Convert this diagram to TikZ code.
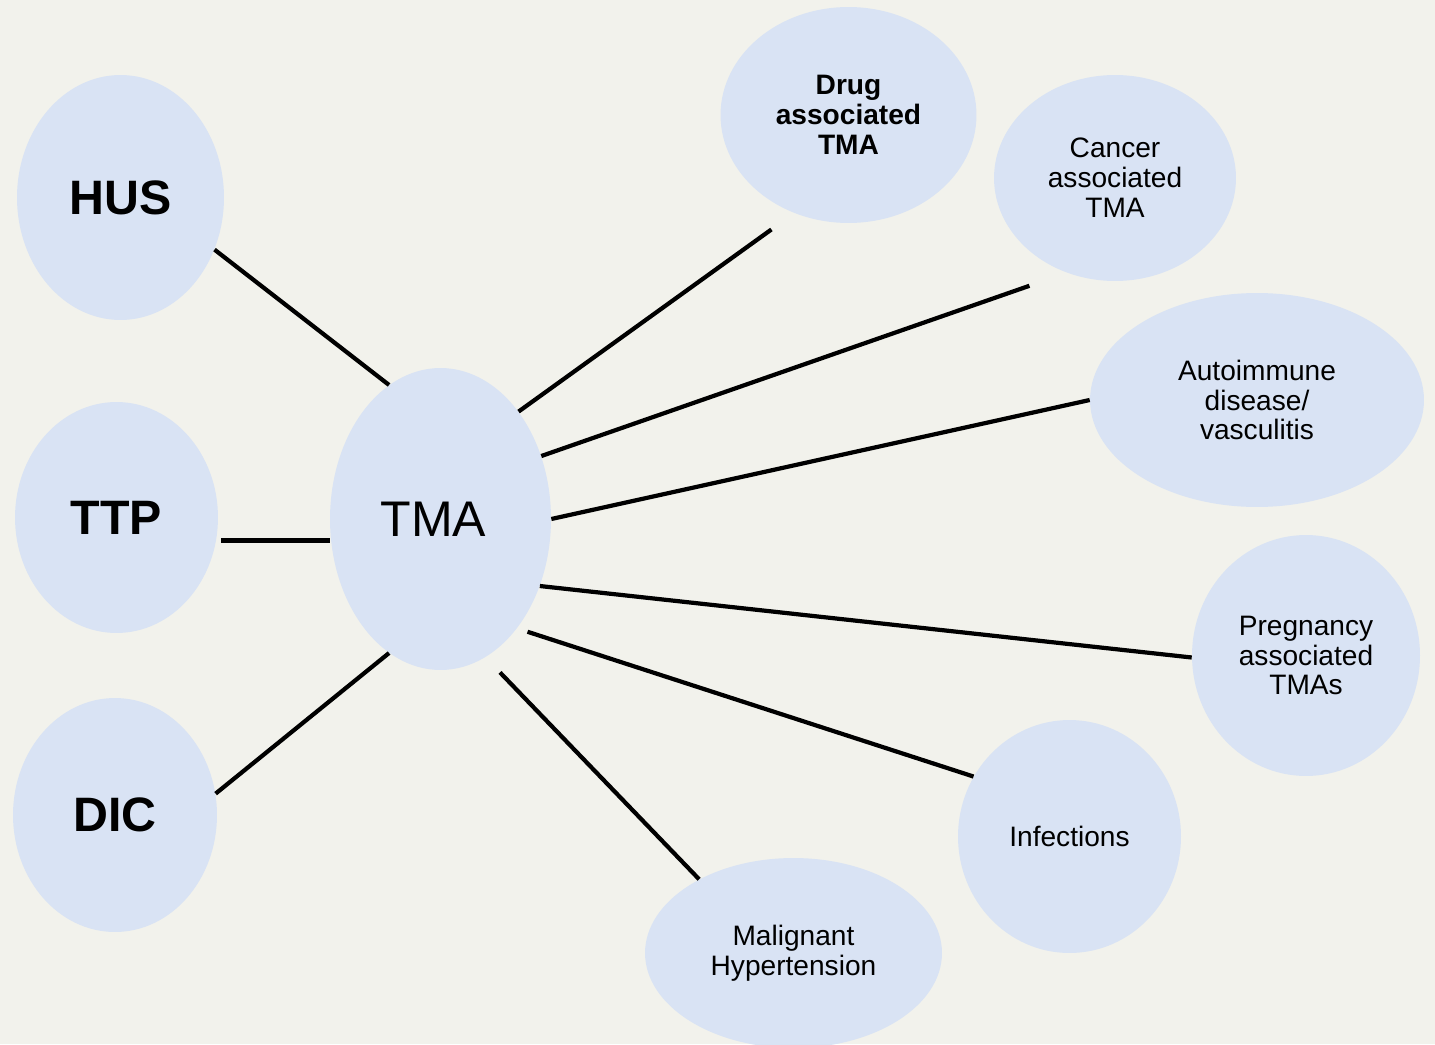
\documentclass[tikz,border=0pt]{standalone}
\usepackage{fontspec}
\setmainfont{Liberation Sans}
\usetikzlibrary{shapes.geometric}
\definecolor{paper}{HTML}{F2F2EC}
\definecolor{bubblefill}{HTML}{D9E3F4}

\begin{document}
\begin{tikzpicture}[
        x=0.02cm, y=-0.02cm,
        bubble/.style={ellipse, fill=bubblefill, inner sep=0pt, align=center},
        big/.style={bubble, font=\fontsize{27.5}{30}\selectfont},
        small/.style={bubble, font=\fontsize{16}{17}\selectfont},
        link/.style={line width=2.4pt}
    ]
    \fill[paper] (0,0) rectangle (1435,1044);
    \useasboundingbox (0,0) rectangle (1435,1044);

    \node[big, font=\fontsize{27.5}{30}\selectfont\bfseries, minimum width=4.14cm, minimum height=4.9cm] (hus) at (120.5,197.5) {HUS};
    \node[big, font=\fontsize{27.5}{30}\selectfont\bfseries, minimum width=4.06cm, minimum height=4.62cm] (ttp) at (116.5,517.5) {TTP};
    \node[big, font=\fontsize{27.5}{30}\selectfont\bfseries, minimum width=4.08cm, minimum height=4.68cm] (dic) at (115,815) {DIC};
    \node[big, font=\fontsize{28.5}{30}\selectfont, minimum width=4.42cm, minimum height=6.04cm] (tma) at (440.5,519) {TMA\hspace{0.28cm}};

    \node[small, font=\fontsize{16}{17}\selectfont\bfseries, minimum width=5.12cm, minimum height=4.32cm] (drug) at (848.5,115) {Drug\\associated\\TMA};
    \node[small, minimum width=4.84cm, minimum height=4.12cm] (cancer) at (1115,178) {Cancer\\associated\\TMA};
    \node[small, minimum width=6.68cm, minimum height=4.28cm] (auto) at (1257,400) {Autoimmune\\disease/\\vasculitis};
    \node[small, minimum width=4.56cm, minimum height=4.82cm] (preg) at (1306,655.5) {Pregnancy\\associated\\TMAs};
    \node[small, minimum width=4.46cm, minimum height=4.66cm] (infect) at (1069.5,836.5) {Infections};
    \node[small, minimum width=5.94cm, minimum height=3.8cm] (malig) at (793.5,953) {Malignant\\Hypertension};

    \draw[link] (hus.-29) -- (tma.111.4);
    \draw[link, shorten <=0.1cm] (ttp.-13) -- (ttp.-13 -| tma.west);
    \draw[link] (dic.12) -- (tma.-111.4);
    \draw[link, shorten >=0.56cm] (tma.54.1) -- (drug.-119.3);
    \draw[link, shorten >=0.79cm] (tma.32.9) -- (cancer.-117.4);
    \draw[link] (tma.-0.5) -- (auto.west);
    \draw[link] (tma.-34.7) -- (preg.181);
    \draw[link, shorten <=0.22cm] (tma.-55.3) -- (infect.148.3);
    \draw[link, shorten <=0.42cm] (tma.-72.6) -- (malig.142.2);
\end{tikzpicture}
\end{document}
